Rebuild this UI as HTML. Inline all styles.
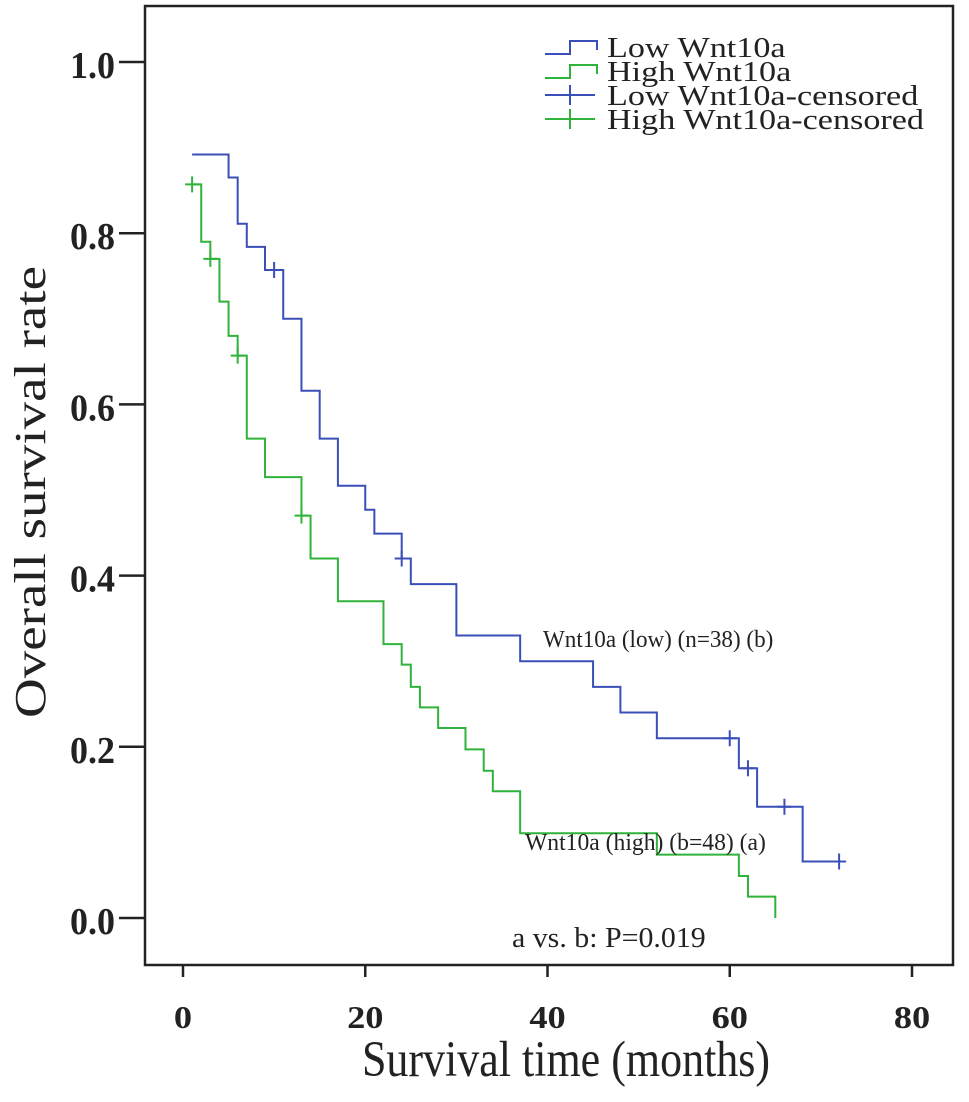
<!DOCTYPE html>
<html><head><meta charset="utf-8"><style>
html,body{margin:0;padding:0;background:#fff;width:969px;height:1102px;overflow:hidden}
svg text{font-family:"Liberation Serif",serif;fill:#222}
</style></head><body>
<svg id="chart" width="969" height="1102" xmlns="http://www.w3.org/2000/svg">
<g id="axes"></g>
<g id="series"></g>
<g id="legend"></g>
<text transform="translate(543,647) scale(1.05,1.1)" font-size="22">Wnt10a (low) (n=38) (b)</text>
<text transform="translate(525,850) scale(1.05,1.1)" font-size="22.5">Wnt10a (high) (b=48) (a)</text>
<text transform="translate(512,947) scale(1.15,1.1)" font-size="26">a vs. b: P=0.019</text>
<text transform="translate(566,1076) scale(1,1.15)" font-size="44" text-anchor="middle">Survival time (months)</text>
<text transform="translate(45,492) scale(1,1.25) rotate(-90)" font-size="44" text-anchor="middle">Overall survival rate</text>
</svg>
<script>
const xTicks = [0, 20, 40, 60, 80];
const yTicks = [0.0, 0.2, 0.4, 0.6, 0.8, 1.0];
const lowTimes = [1, 5, 6, 7, 9, 11, 13, 15, 17, 20, 21, 24, 25, 30, 37, 45, 48, 52, 61, 63, 68, 72];
const lowSurv  = [0.892, 0.865, 0.811, 0.784, 0.757, 0.70, 0.616, 0.56, 0.505, 0.477, 0.449, 0.42, 0.39, 0.33, 0.30, 0.27, 0.24, 0.21, 0.175, 0.13, 0.066, 0.066];
const lowCensor = [10, 24, 60, 62, 66, 72];
const highTimes = [1, 2, 3, 4, 5, 6, 7, 9, 13, 14, 17, 22, 24, 25, 26, 28, 31, 33, 34, 37, 52, 61, 62, 65];
const highSurv  = [0.857, 0.79, 0.77, 0.72, 0.68, 0.657, 0.56, 0.515, 0.47, 0.42, 0.37, 0.32, 0.296, 0.27, 0.246, 0.222, 0.197, 0.172, 0.148, 0.099, 0.074, 0.049, 0.025, 0.0];
const highCensor = [1, 3, 6, 13];

const NS='http://www.w3.org/2000/svg';
const X0=183, X1=912, Y0=918, Y1=62;
const xs=t=>X0+(X1-X0)*t/80;
const ys=v=>Y0-(Y0-Y1)*v;
function mk(tag,attrs,parent){const e=document.createElementNS(NS,tag);for(const k in attrs)e.setAttribute(k,attrs[k]);parent.appendChild(e);return e;}
const axes=document.getElementById('axes');
const frame=mk('rect',{x:145,y:6,width:808,height:959,fill:'none',stroke:'#222','stroke-width':2.5},axes);


xTicks.forEach(t=>{
  const l=mk('line',{x1:xs(t),x2:xs(t),y1:965,y2:977,stroke:'#222','stroke-width':2.5},axes);
  
  
  const tx=mk('text',{transform:`translate(${xs(t)},1028) scale(1.4,1.2)`,'font-size':26,'font-weight':'bold','text-anchor':'middle'},axes);
  tx.textContent=t;
  
  
});
yTicks.forEach(v=>{
  const l=mk('line',{x1:119,x2:145,y1:ys(v),y2:ys(v),stroke:'#222','stroke-width':2.5},axes);
  
  
  const tx=mk('text',{transform:`translate(115,${ys(v)+16}) scale(1.2,1.27)`,'font-size':30,'font-weight':'bold','text-anchor':'end'},axes);
  tx.textContent=v.toFixed(1);
  
  
});
const ser=document.getElementById('series');
function survAt(times,surv,t){let s=surv[0];for(let i=0;i<times.length;i++){if(times[i]<=t)s=surv[i];}return s;}
function drawCurve(times,surv,cens,color,name){
  let d='M'+xs(times[0])+','+ys(surv[0]);
  for(let i=1;i<times.length;i++){d+=' H'+xs(times[i])+' V'+ys(surv[i]);}
  const p=mk('path',{d:d,fill:'none',stroke:color,'stroke-width':2},ser);
  
  
  cens.forEach(t=>{
    const y=ys(survAt(times,surv,t)),x=xs(t);
    const c=mk('path',{d:`M${x-7},${y} H${x+7} M${x},${y-8} V${y+8}`,stroke:color,'stroke-width':2},ser);
    
    
  });
}
drawCurve(lowTimes,lowSurv,lowCensor,'#3a4fb8','low-wnt10a');
drawCurve(highTimes,highSurv,highCensor,'#2fb33a','high-wnt10a');
const lg=document.getElementById('legend');
const items=[['Low Wnt10a','#3a4fb8',0],['High Wnt10a','#2fb33a',0],['Low Wnt10a-censored','#3a4fb8',1],['High Wnt10a-censored','#2fb33a',1]];
const rowY=[47,71,95,119];
items.forEach((it,i)=>{
  const y=rowY[i];
  const d=it[2]?`M545,${y} H595 M570,${y-10} V${y+10}`:`M545,${y+7} H570 V${y-6} H597 V${y+3}`;
  const s=mk('path',{d:d,fill:'none',stroke:it[1],'stroke-width':2},lg);
  
  
  const t=mk('text',{transform:`translate(607,${y+10}) scale(1.22,1.02)`,'font-size':28},lg);
  t.textContent=it[0];
  
  
});
</script>
</body></html>
